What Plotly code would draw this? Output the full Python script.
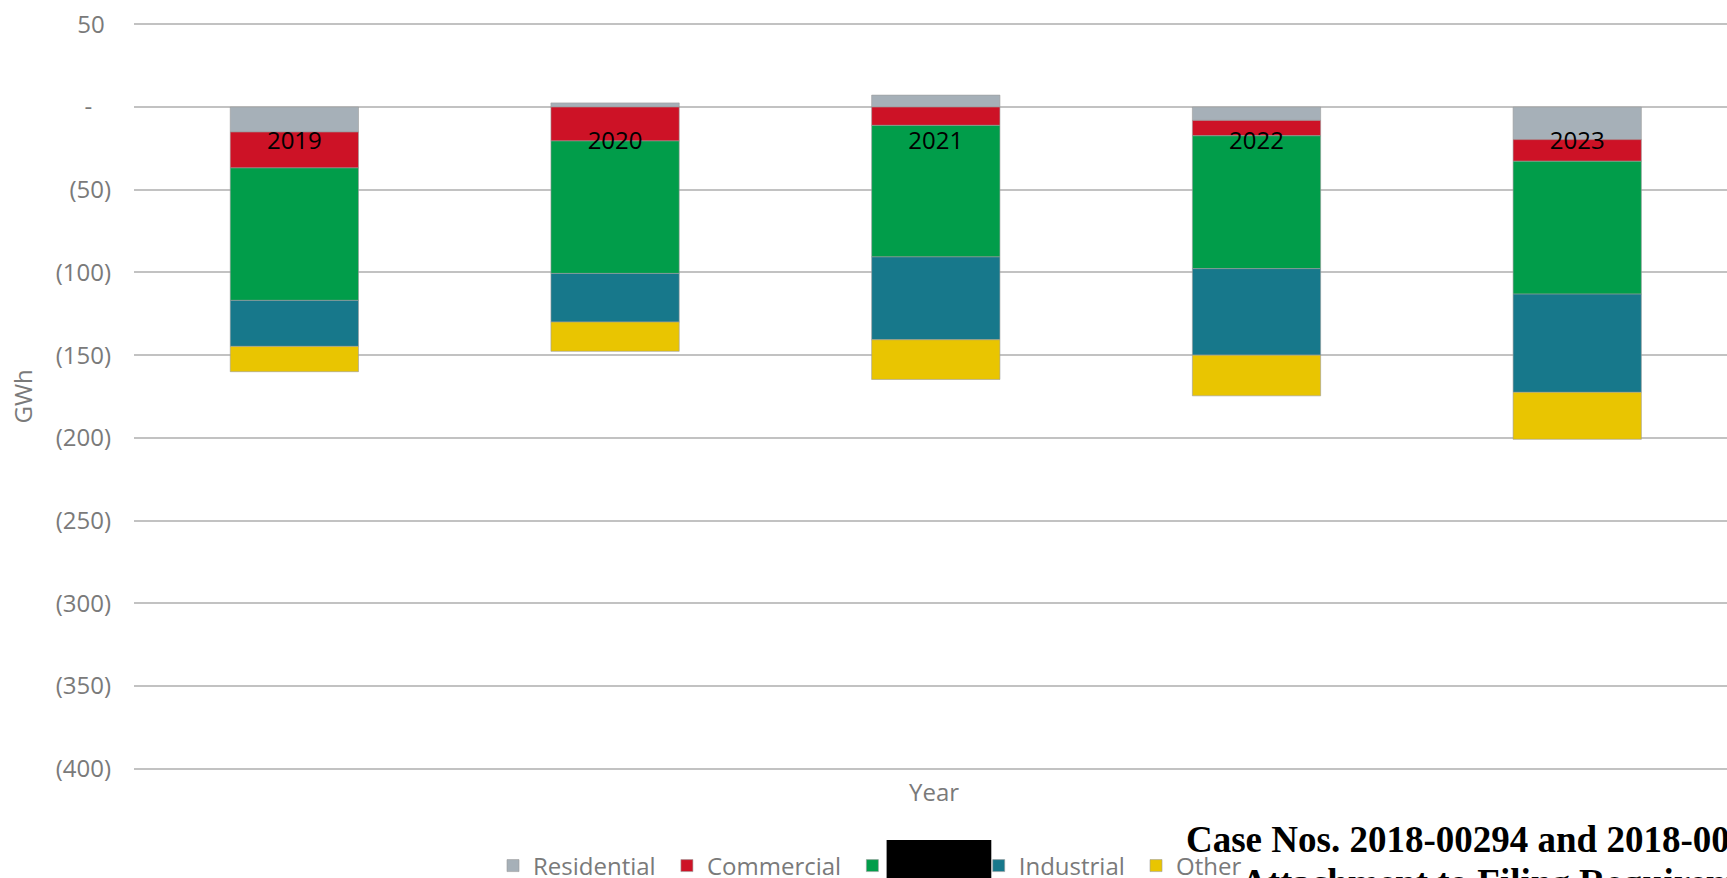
import plotly.graph_objects as go

years = ["2019", "2020", "2021", "2022", "2023"]
residential = [-15.1, 2.5, 7.2, -8.1, -19.7]
commercial = [-21.7, -20.5, -11.1, -9.3, -13.1]
redacted = [-80.1, -80.1, -79.5, -80.3, -80.3]
industrial = [-27.8, -29.4, -50.1, -52.3, -59.4]
other = [-15.3, -17.7, -24.0, -24.6, -28.4]

series_names = ["Residential\u00a0", "Commercial\u00a0",
                "<span style='color:#000000'>Hidden</span>",
                "Industrial\u00a0", "Other"]
series_values = [residential, commercial, redacted, industrial, other]
series_colors = ["#A6B0B8", "#CD1226", "#019D4A", "#17788B", "#E9C501"]

y_tickvals = [50, 0, -50, -100, -150, -200, -250, -300, -350, -400]
y_ticktext = ["50\u00a0", "-\u00a0\u00a0\u00a0", "(50)", "(100)", "(150)", "(200)",
              "(250)", "(300)", "(350)", "(400)"]
y_min, y_max = -402, 52

W, H = 1727, 878
ML, MT, MB, MR = 134, 21, 106, 0
PW = W - ML - MR
PH = H - MT - MB

def px_x(x):
    return (x - ML) / PW

def px_y(y):
    return (H - MB - y) / PH

fig = go.Figure()
for name, vals, col in zip(series_names, series_values, series_colors):
    fig.add_trace(go.Bar(
        x=years, y=vals, name=name,
        marker=dict(color=col, line=dict(color="#9c9c9c", width=0.6)),
    ))

grey = "#7a7a7a"
fig.update_layout(
    width=W, height=H,
    margin=dict(l=ML, r=MR, t=MT, b=MB, autoexpand=False),
    barmode="relative",
    bargap=0.6,
    plot_bgcolor="white",
    paper_bgcolor="white",
    font=dict(family="Open Sans", size=24, color=grey),
    showlegend=True,
    legend=dict(
        orientation="h", traceorder="normal",
        x=px_x(493), xanchor="left",
        y=px_y(843.5), yanchor="top",
        font=dict(family="Open Sans", size=24, color=grey),
        bgcolor="rgba(0,0,0,0)",
    ),
    xaxis=dict(
        type="category", categoryorder="array", categoryarray=years,
        range=[-0.5, 4.467],
        anchor="free", position=(0 - y_min) / (y_max - y_min),
        showline=False, showgrid=False, zeroline=False, ticks="",
        tickfont=dict(family="Open Sans", size=24, color="#000000"),
        ticklabelstandoff=17,
    ),
    yaxis=dict(
        range=[y_min, y_max],
        tickvals=y_tickvals, ticktext=y_ticktext,
        showgrid=True, gridcolor="#c2c2c2", gridwidth=2,
        zeroline=True, zerolinecolor="#c2c2c2", zerolinewidth=2,
        showline=False, ticks="",
        tickfont=dict(family="Open Sans", size=24, color=grey),
        ticklabelstandoff=22,
    ),
)

fig.add_annotation(text="GWh", xref="paper", yref="paper",
                   x=px_x(22), y=px_y(396.5), textangle=-90, showarrow=False,
                   xanchor="center", yanchor="middle",
                   font=dict(family="Open Sans", size=24, color=grey))
fig.add_annotation(text="Year", xref="paper", yref="paper",
                   x=px_x(934), y=px_y(791), showarrow=False,
                   xanchor="center", yanchor="middle",
                   font=dict(family="Open Sans", size=24, color=grey))
fig.add_annotation(text="<b>Case Nos. 2018-00294 and 2018-00295</b>", xref="paper", yref="paper",
                   x=px_x(1184), y=px_y(817), showarrow=False,
                   xanchor="left", yanchor="top",
                   font=dict(family="Liberation Serif", size=37, color="#000000"))
fig.add_annotation(text="<b>Attachment to Filing Requirements</b>", xref="paper", yref="paper",
                   x=px_x(1239), y=px_y(860), showarrow=False,
                   xanchor="left", yanchor="top",
                   font=dict(family="Liberation Serif", size=37, color="#000000"))

fig.add_shape(type="rect", xref="paper", yref="paper",
              x0=px_x(886.6), x1=px_x(991.3), y0=px_y(890), y1=px_y(840),
              fillcolor="#000000", line=dict(width=0), layer="above")

fig.write_html("out.html")
